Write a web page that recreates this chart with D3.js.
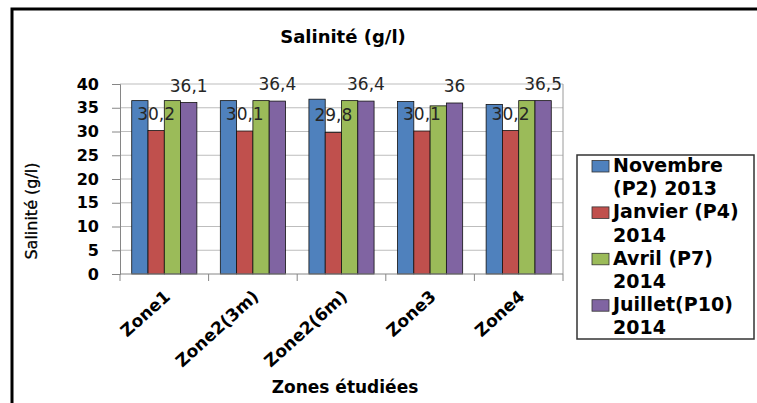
<!DOCTYPE html>
<html>
<head>
<meta charset="utf-8">
<script src="https://cdn.jsdelivr.net/npm/d3@7"></script>
<style>
  html, body { margin: 0; padding: 0; background: #fff; }
  svg { display: block; }
</style>
</head>
<body>
<script>
// Sampling zones (categories)
const zones = ["Zone1", "Zone2(3m)", "Zone2(6m)", "Zone3", "Zone4"];

// Sampling campaigns (series), each label split over two lines in the legend
const seriesNames = ["Novembre (P2) 2013", "Janvier (P4) 2014", "Avril (P7) 2014", "Juillet(P10) 2014"];
const legendLines = [["Novembre", "(P2) 2013"], ["Janvier (P4)", "2014"], ["Avril (P7)", "2014"], ["Juillet(P10)", "2014"]];
const seriesColors = ["#4F81BD", "#C0504D", "#9BBB59", "#8064A2"];

// Salinity (g/l) per campaign, one value per zone
const novembre = [36.5, 36.5, 36.8, 36.3, 35.7];
const janvier  = [30.2, 30.1, 29.8, 30.1, 30.2];
const avril    = [36.5, 36.5, 36.5, 35.4, 36.5];
const juillet  = [36.1, 36.4, 36.4, 36.0, 36.5];
const seriesValues = [novembre, janvier, avril, juillet];

// Series whose values are printed above their bars
const labelledSeries = [1, 3];

// Y axis ticks
const yTicks = [0, 5, 10, 15, 20, 25, 30, 35, 40];

const W = 757, H = 403;
const svg = d3.select("body").append("svg").attr("width", W).attr("height", H);

const fmt = v => String(v).replace(".", ",");

// Outer frame
svg.append("path")
  .attr("d", "M12,410 L12,9 L770,9")
  .attr("fill", "none").attr("stroke", "#000").attr("stroke-width", 3);

const plot = { left: 120, right: 563, top: 84, bottom: 274 };

const x0 = d3.scaleBand().domain(zones).range([plot.left, plot.right]).paddingInner(0).paddingOuter(0);
const x1 = d3.scaleBand().domain(d3.range(seriesNames.length)).range([0, x0.bandwidth()]).paddingInner(0).paddingOuter(0.72);
const y = d3.scaleLinear().domain([0, 40]).range([plot.bottom, plot.top]);

// Gridlines
svg.append("g").selectAll("line").data(yTicks.filter(t => t > 0)).join("line")
  .attr("x1", plot.left).attr("x2", plot.right)
  .attr("y1", d => y(d)).attr("y2", d => y(d))
  .attr("stroke", "#bdbdbd").attr("stroke-width", 1);

// Plot area right edge
svg.append("line")
  .attr("x1", plot.right).attr("x2", plot.right)
  .attr("y1", plot.top).attr("y2", plot.bottom)
  .attr("stroke", "#9a9a9a").attr("stroke-width", 1);

// Bars
const groups = svg.append("g").selectAll("g").data(zones).join("g")
  .attr("transform", d => `translate(${x0(d)},0)`);

groups.selectAll("rect")
  .data((z, zi) => seriesValues.map((vals, si) => ({ si, v: vals[zi] })))
  .join("rect")
  .attr("x", d => x1(d.si))
  .attr("width", x1.bandwidth())
  .attr("y", d => y(d.v))
  .attr("height", d => y(0) - y(d.v))
  .attr("fill", d => seriesColors[d.si])
  .attr("stroke", "#111").attr("stroke-width", 0.8);

// Value labels
groups.selectAll("text.val")
  .data((z, zi) => labelledSeries.map(si => ({ si, v: seriesValues[si][zi] })))
  .join("text")
  .attr("class", "val")
  .attr("x", d => x1(d.si) + x1.bandwidth() / 2)
  .attr("y", d => y(d.v) - 11)
  .attr("text-anchor", "middle")
  .attr("font-family", "DejaVu Sans")
  .attr("font-size", 17)
  .attr("fill", "#262626")
  .text(d => fmt(d.v));

// Y axis
const yAxis = svg.append("g").attr("transform", `translate(${plot.left},0)`)
  .call(d3.axisLeft(y).tickValues(yTicks).tickSize(8).tickPadding(13).tickFormat(d => d));
yAxis.select(".domain").attr("stroke", "#868686");
yAxis.selectAll(".tick line").attr("stroke", "#868686");
yAxis.selectAll(".tick text")
  .attr("font-family", "DejaVu Sans").attr("font-weight", "bold")
  .attr("font-size", 16).attr("fill", "#000");

// X axis line and boundary ticks
svg.append("line")
  .attr("x1", plot.left).attr("x2", plot.right)
  .attr("y1", plot.bottom).attr("y2", plot.bottom)
  .attr("stroke", "#868686");
svg.append("g").selectAll("line")
  .data(zones.map(z => x0(z)).concat([x0(zones[zones.length - 1]) + x0.bandwidth()]))
  .join("line")
  .attr("x1", d => d).attr("x2", d => d)
  .attr("y1", plot.bottom).attr("y2", plot.bottom + 7)
  .attr("stroke", "#868686");

// Category labels
svg.append("g").selectAll("text").data(zones).join("text")
  .attr("transform", d => `translate(${x0(d) + x0.bandwidth() / 2 + 7},${plot.bottom + 24}) rotate(-42)`)
  .attr("text-anchor", "end")
  .attr("font-family", "DejaVu Sans").attr("font-weight", "bold")
  .attr("font-size", 17).attr("fill", "#000")
  .text(d => d);

// Titles
svg.append("text")
  .attr("x", 343).attr("y", 43)
  .attr("text-anchor", "middle")
  .attr("font-family", "DejaVu Sans").attr("font-weight", "bold")
  .attr("font-size", 18).attr("fill", "#000")
  .text("Salinité (g/l)");

svg.append("text")
  .attr("x", 345).attr("y", 393)
  .attr("text-anchor", "middle")
  .attr("font-family", "DejaVu Sans").attr("font-weight", "bold")
  .attr("font-size", 17).attr("fill", "#000")
  .text("Zones étudiées");

svg.append("text")
  .attr("transform", "translate(37,211) rotate(-90)")
  .attr("text-anchor", "middle")
  .attr("font-family", "DejaVu Sans")
  .attr("font-size", 16).attr("fill", "#000")
  .attr("stroke", "#000").attr("stroke-width", 0.3)
  .text("Salinité (g/l)");

// Legend
const legend = svg.append("g");
legend.append("rect")
  .attr("x", 577).attr("y", 155).attr("width", 177).attr("height", 184)
  .attr("fill", "#fff").attr("stroke", "#333").attr("stroke-width", 1.5);

const lineH = 23.2;
const entries = legend.selectAll("g").data(seriesNames).join("g")
  .attr("transform", (d, i) => `translate(0,${172 + i * 2 * lineH})`);
entries.append("rect")
  .attr("x", 592).attr("y", -11.5).attr("width", 17).attr("height", 11.5)
  .attr("fill", (d, i) => seriesColors[i])
  .attr("stroke", "#333").attr("stroke-width", 0.8);
entries.each(function (d, i) {
  d3.select(this).selectAll("text").data(legendLines[i]).join("text")
    .attr("x", 613).attr("y", (t, j) => j * lineH)
    .attr("font-family", "DejaVu Sans").attr("font-weight", "bold")
    .attr("font-size", 19).attr("fill", "#000")
    .text(t => t);
});
</script>
</body>
</html>
